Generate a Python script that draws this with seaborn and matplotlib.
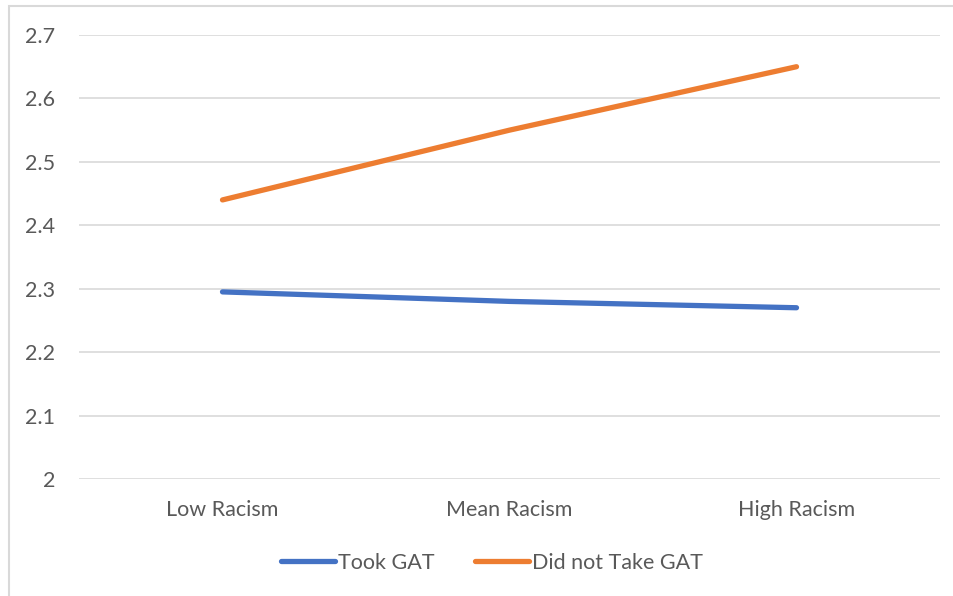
import matplotlib
matplotlib.use("Agg")
import matplotlib.pyplot as plt
from matplotlib.patches import Rectangle
import seaborn as sns
import pandas as pd

categories = ["Low Racism", "Mean Racism", "High Racism"]
took_gat = [2.295, 2.28, 2.27]
did_not_take_gat = [2.44, 2.55, 2.65]
series_names = ["Took GAT", "Did not Take GAT"]
y_ticks = [2.0, 2.1, 2.2, 2.3, 2.4, 2.5, 2.6, 2.7]
y_tick_labels = ["2", "2.1", "2.2", "2.3", "2.4", "2.5", "2.6", "2.7"]

df = pd.DataFrame({
    "level": categories * 2,
    "value": took_gat + did_not_take_gat,
    "group": [series_names[0]] * 3 + [series_names[1]] * 3,
})
df["x"] = [0, 1, 2] * 2

sns.set_theme(style="white")
plt.rcParams["font.family"] = ["Lato", "DejaVu Sans"]

W, H = 954, 596
fig = plt.figure(figsize=(W / 100, H / 100), dpi=100)
ax = fig.add_axes([79 / W, 1 - 479 / H, (940 - 79) / W, (479 - 35) / H])

palette = {series_names[0]: "#4472C4", series_names[1]: "#ED7D31"}
sns.lineplot(data=df, x="x", y="value", hue="group", palette=palette,
             linewidth=3.8, ax=ax, solid_capstyle="round", legend=False)

fs = 15.5
ax.set_xlim(-0.5, 2.5)
ax.set_ylim(2.0, 2.7)
ax.set_yticks(y_ticks)
ax.set_yticklabels(y_tick_labels)
ax.set_xticks([0, 1, 2])
ax.set_xticklabels(categories)
ax.grid(axis="y", color="#D9D9D9", linewidth=1.2)
ax.set_axisbelow(True)
for s in ax.spines.values():
    s.set_visible(False)
ax.tick_params(axis="y", length=0, pad=17, labelsize=fs, labelcolor="#595959")
ax.tick_params(axis="x", length=0, pad=15, labelsize=fs, labelcolor="#595959")
ax.set_xlabel("")
ax.set_ylabel("")

# legend below the plot
handles = [plt.Line2D([], [], color=palette[n], linewidth=3.8, solid_capstyle="round")
           for n in series_names]
fig.legend(handles, series_names, loc="center", bbox_to_anchor=(492 / W, 1 - 563 / H),
           ncol=2, frameon=False, fontsize=fs, labelcolor="#595959",
           handlelength=2.5, handletextpad=0.15, columnspacing=1.9)

# chart area border
fig.patches.append(Rectangle((9 / W, -0.05), 1.2, 1 - 6 / H + 0.05,
                             transform=fig.transFigure, fill=False,
                             edgecolor="#D9D9D9", linewidth=1.5))

fig.savefig("out.png", dpi=100, facecolor="white")
